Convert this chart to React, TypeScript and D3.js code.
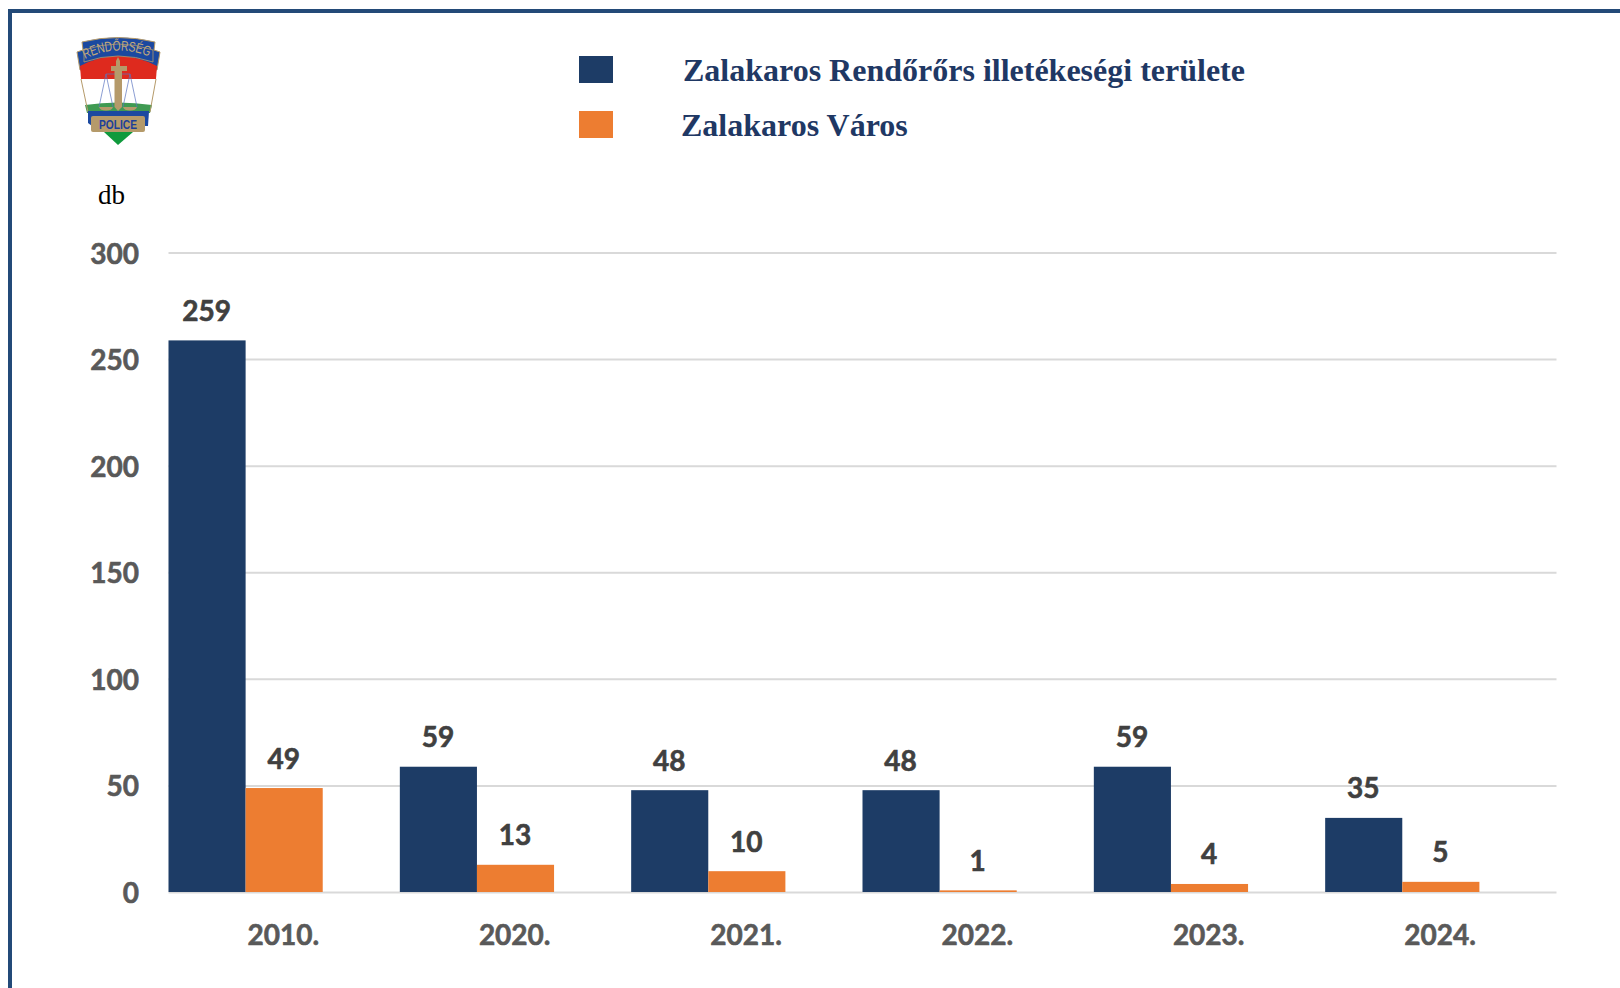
import { useEffect, useRef } from 'react';
import * as d3 from 'd3';

const years = ['2010.', '2020.', '2021.', '2022.', '2023.', '2024.'];
const seriesNames = ['Zalakaros Rendőrőrs illetékeségi területe', 'Zalakaros Város'];
const kapitanysag = [259, 59, 48, 48, 59, 35];
const varos = [49, 13, 10, 1, 4, 5];
const yTicks = [0, 50, 100, 150, 200, 250, 300];
const colors = ['#1d3c66', '#ed7d31'];

const width = 1620;
const height = 988;
const labelFont = 'Lato, "Open Sans", sans-serif';
const serifFont = '"Liberation Serif", serif';

function Badge() {
  // rendőrségi címer, kézzel rajzolva
  const gold = '#b59a6a';
  const blue = '#1b49a0';
  return (
    <g>
      <path d="M77 52 L83 50 L82 42 Q118 33 155 42 L154 50 L160 52 L157 70 L80 70 Z" fill={blue} stroke={gold} strokeWidth="1" />
      <path d="M80 66 Q118 46 157 66 L156 79 L81 79 Z" fill="#de2a1e" />
      <path d="M81 79 L156 79 L152 105 L85 105 Z" fill="#ffffff" />
      <path d="M85 105 Q118 100 152 105 L150 113 L87 113 Z" fill="#3f9a52" />
      <path d="M81 79 L88 112 M156 79 L150 112" stroke={gold} strokeWidth="1" fill="none" />
      <path d="M88 111 L149 111 L148 126 L92 126 L88 123 Z" fill={blue} />
      <path d="M104 132 L133 132 L118 145 Z" fill="#0f9a3c" />
      <rect x="91" y="116" width="54" height="16" rx="2" fill={gold} />
      <path id="badge-arc" d="M85 59 Q119 42 154 59" fill="none" />
      <path d="M84 50 Q118 38 153 50 L153 62 Q118 50 84 62 Z" fill={blue} stroke={gold} strokeWidth="0.8" />
      <text fontFamily='"Liberation Sans", sans-serif' fontSize="14" fill="#c2aa7c">
        <textPath href="#badge-arc" textLength="66" lengthAdjust="spacingAndGlyphs">RENDŐRSÉG</textPath>
      </text>
      <text x="118" y="129" textAnchor="middle" fontFamily='"Liberation Sans", sans-serif' fontWeight="bold" fontSize="13" fill="#1b3f9a" textLength="38" lengthAdjust="spacingAndGlyphs">POLICE</text>
      <path d="M106 74 L130 74 M106 74 L99 107 M106 74 L113 107 M130 74 L123 107 M130 74 L137 107" stroke="#5a74c0" strokeWidth="0.7" fill="none" />
      <path d="M99 107 L113 107 Q112 110.5 106 110.5 Q100 110.5 99 107 Z M123 107 L137 107 Q136 110.5 130 110.5 Q124 110.5 123 107 Z" fill={gold} />
      <path d="M116 66 L116 61 L118 57 L120 61 L120 66 L127 66 L127 71 L122 71 L122 107 L118 111 L114.5 107 L114.5 71 L111 71 L111 66 Z" fill={gold} />
    </g>
  );
}

export default function App() {
  const svgRef = useRef<SVGSVGElement | null>(null);

  useEffect(() => {
    const svg = d3.select(svgRef.current);
    svg.select('.chart').selectAll('*').remove();
    const g = svg.select('.chart');

    const margin = { top: 253, left: 168.5, right: 1556.5, bottom: 892.5 };

    const x = d3.scaleBand().domain(years).range([margin.left, margin.right]);
    const y = d3.scaleLinear().domain([0, 300]).range([margin.bottom, margin.top]);
    // barok a sáv bal szélétől indulnak, mint az eredetiben
    const inner = d3.scaleBand().domain(['0', '1']).range([0, x.bandwidth() * 2 / 3]);

    // Rács
    g.append('g')
      .selectAll('line')
      .data(yTicks)
      .enter()
      .append('line')
      .attr('x1', margin.left)
      .attr('x2', margin.right)
      .attr('y1', d => y(d))
      .attr('y2', d => y(d))
      .attr('stroke', '#d9d9d9')
      .attr('stroke-width', 2);

    // Oszlopok
    [kapitanysag, varos].forEach((values, s) => {
      g.append('g')
        .selectAll('rect')
        .data(values)
        .enter()
        .append('rect')
        .attr('x', (d, i) => x(years[i])! + inner(String(s))!)
        .attr('y', d => y(d))
        .attr('width', inner.bandwidth())
        .attr('height', d => y(0) - y(d) - 0.5)
        .attr('fill', colors[s]);

      g.append('g')
        .selectAll('text')
        .data(values)
        .enter()
        .append('text')
        .attr('x', (d, i) => x(years[i])! + inner(String(s))! + inner.bandwidth() / 2 - 0.5)
        .attr('y', d => y(d) - 19.5)
        .attr('text-anchor', 'middle')
        .attr('font-family', labelFont)
        .attr('font-weight', 700)
        .attr('font-size', 28)
        .attr('fill', '#404040')
        .attr('stroke', '#404040')
        .attr('stroke-width', 0.6)
        .text(d => d);
    });

    // Tengelyek feliratai
    g.append('g')
      .selectAll('text')
      .data(yTicks)
      .enter()
      .append('text')
      .attr('x', 139)
      .attr('y', d => y(d) + 10.5)
      .attr('text-anchor', 'end')
      .attr('font-family', labelFont)
      .attr('font-weight', 700)
      .attr('font-size', 28)
      .attr('fill', '#595959')
      .attr('stroke', '#595959')
      .attr('stroke-width', 0.6)
      .text(d => d);

    g.append('g')
      .selectAll('text')
      .data(years)
      .enter()
      .append('text')
      .attr('x', d => x(d)! + x.bandwidth() / 2 - 0.8)
      .attr('y', 944.5)
      .attr('text-anchor', 'middle')
      .attr('font-family', labelFont)
      .attr('font-weight', 700)
      .attr('font-size', 28)
      .attr('fill', '#595959')
      .attr('stroke', '#595959')
      .attr('stroke-width', 0.6)
      .text(d => d);
  }, []);

  return (
    <svg
      ref={svgRef}
      width={width}
      height={height}
      style={{ position: 'absolute', left: 0, top: 0, background: '#fff' }}
    >
      <path d="M1620 11 L10 11 L10 988" fill="none" stroke="#234a78" strokeWidth="4" />
      <Badge />
      <rect x={579} y={56} width={34} height={27} fill={colors[0]} />
      <rect x={579} y={111} width={34} height={27} fill={colors[1]} />
      <text x={683} y={81} fontFamily={serifFont} fontWeight="bold" fontSize={32} fill="#1f3864">{seriesNames[0]}</text>
      <text x={681} y={136} fontFamily={serifFont} fontWeight="bold" fontSize={32} fill="#1f3864">{seriesNames[1]}</text>
      <text x={98} y={204} fontFamily={serifFont} fontSize={27} fill="#000">db</text>
      <g className="chart" />
    </svg>
  );
}
